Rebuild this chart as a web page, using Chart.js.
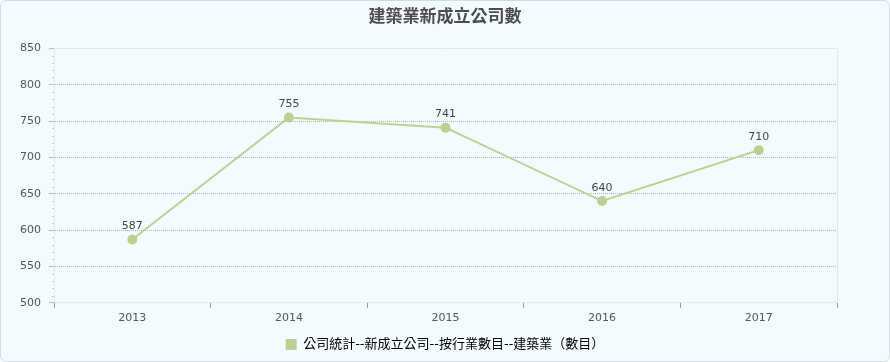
<!DOCTYPE html>
<html>
<head>
<meta charset="utf-8">
<script src="https://cdn.jsdelivr.net/npm/chart.js@4.4.1/dist/chart.umd.min.js"></script>
<style>
html,body{margin:0;padding:0;background:#ffffff;}
#wrap{position:absolute;left:0;top:0;width:888px;height:360px;border:1px solid #cfdde5;border-radius:6px;background:#f4fbfe;overflow:hidden;}
canvas{display:block;}
</style>
</head>
<body>
<div id="wrap"><canvas id="c" width="888" height="360"></canvas></div>
<script>
const categories = ['2013', '2014', '2015', '2016', '2017'];
const values = [587, 755, 741, 640, 710];
const seriesName = '公司統計--新成立公司--按行業數目--建築業（數目）';
const chartTitle = '建築業新成立公司數';
const yMin = 500, yMax = 850, yStep = 50, yMinorStep = 10;

const FONT = '"DejaVu Sans", "Noto Sans CJK TC", sans-serif';
const LINE = '#bdd08e';

const extras = {
  id: 'extras',
  afterDraw(chart) {
    const ctx = chart.ctx;
    const a = chart.chartArea;
    const y = chart.scales.y;
    ctx.save();
    ctx.strokeStyle = '#e3e8ec';
    ctx.lineWidth = 1;
    ctx.beginPath();
    ctx.moveTo(a.left, Math.round(a.top) + 0.5);
    ctx.lineTo(a.right, Math.round(a.top) + 0.5);
    ctx.moveTo(Math.round(a.right) + 0.5, a.top);
    ctx.lineTo(Math.round(a.right) + 0.5, a.bottom);
    ctx.stroke();
    ctx.strokeStyle = '#c8ccd0';
    ctx.beginPath();
    for (let v = yMin; v <= yMax; v += yMinorStep) {
      if (v % yStep === 0) continue;
      const py = Math.round(y.getPixelForValue(v)) + 0.5;
      ctx.moveTo(a.left - 2, py);
      ctx.lineTo(a.left, py);
    }
    ctx.stroke();
    const meta = chart.getDatasetMeta(0);
    ctx.fillStyle = '#444';
    ctx.font = '11px ' + FONT;
    ctx.textAlign = 'center';
    ctx.textBaseline = 'middle';
    meta.data.forEach((pt, i) => {
      ctx.fillText(String(values[i]), pt.x, pt.y - 13);
    });
    ctx.restore();
  }
};

new Chart(document.getElementById('c'), {
  type: 'line',
  data: {
    labels: categories,
    datasets: [{
      label: seriesName,
      data: values,
      borderColor: LINE,
      backgroundColor: LINE,
      borderWidth: 2,
      pointRadius: 4,
      pointHoverRadius: 4,
      pointBackgroundColor: LINE,
      pointBorderColor: LINE,
      tension: 0
    }]
  },
  options: {
    responsive: false,
    animation: false,
    events: [],
    layout: { padding: { left: 0, right: 0, top: 0, bottom: 0 } },
    plugins: {
      title: {
        display: true,
        text: chartTitle,
        color: '#4d4d4d',
        font: { family: FONT, size: 17, weight: 'bold' },
        padding: { top: 6, bottom: 21 }
      },
      legend: {
        position: 'bottom',
        labels: {
          color: '#444',
          font: { family: FONT, size: 13 },
          boxWidth: 11,
          boxHeight: 11,
          padding: 9,
          generateLabels(chart) {
            return [{ text: seriesName, fillStyle: LINE, strokeStyle: LINE, lineWidth: 0, datasetIndex: 0 }];
          }
        }
      },
      tooltip: { enabled: false }
    },
    scales: {
      x: {
        offset: true,
        grid: {
          offset: true,
          drawOnChartArea: false,
          drawTicks: true,
          tickLength: 5,
          tickColor: '#999'
        },
        border: { display: true, color: '#e3e8ec' },
        ticks: { color: '#555', font: { family: FONT, size: 11 }, padding: 4 }
      },
      y: {
        min: yMin,
        max: yMax,
        afterFit(s) { s.width = 53; },
        grid: {
          color(ctx) {
            const v = ctx.tick && ctx.tick.value;
            if (v === yMin || v === yMax) return 'rgba(0,0,0,0)';
            return '#b4b4b4';
          },
          tickBorderDash: [],
          tickColor: '#bbb',
          tickLength: 5,
          drawTicks: true
        },
        border: { display: true, color: '#e3e8ec', dash: [1, 1] },
        ticks: {
          stepSize: yStep,
          color: '#555',
          font: { family: FONT, size: 11 },
          padding: 8
        }
      },
      yRight: {
        position: 'right',
        min: yMin,
        max: yMax,
        afterFit(s) { s.width = 52; },
        grid: { display: false, drawOnChartArea: false },
        border: { display: false },
        ticks: { display: false }
      }
    }
  },
  plugins: [extras]
});
</script>
</body>
</html>
